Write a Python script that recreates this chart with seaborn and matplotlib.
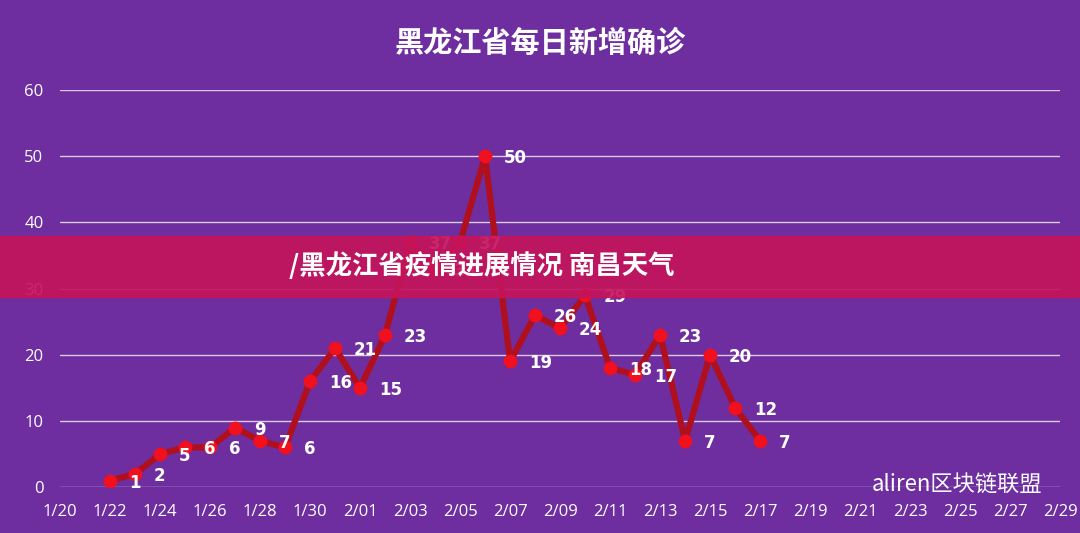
import matplotlib
matplotlib.use("Agg")
import matplotlib.pyplot as plt
import seaborn as sns
import pandas as pd
import numpy as np

tick_labels = ["1/20","1/22","1/24","1/26","1/28","1/30","2/01","2/03","2/05","2/07","2/09","2/11","2/13","2/15","2/17","2/19","2/21","2/23","2/25","2/27","2/29"]
values = [1,2,5,6,6,9,7,6,16,21,15,23,37,33,37,50,19,26,24,29,18,17,23,7,20,12,7]
start_day = 2  # data starts on 1/22 (day index 2 from 1/20)

sns.set_theme(style="white")
plt.rcParams['font.family'] = ['Noto Sans CJK SC', 'DejaVu Sans']
bg = "#6E2E9F"
fig = plt.figure(figsize=(10.8, 5.33), dpi=100, facecolor=bg)
ax = fig.add_axes([0.0556, 0.086, 0.926, 0.745], facecolor=bg)

df = pd.DataFrame({"day": np.arange(len(values)) + start_day, "v": values})
sns.lineplot(data=df, x="day", y="v", ax=ax, color="#B0101E", linewidth=4.5, zorder=3)
ax.scatter(df.day, df.v, s=80, color="#F0101E", zorder=4)
for d, v in zip(df.day, df.v):
    ax.text(d + 0.75, v - 0.3, str(v), color="white", fontsize=12, fontweight="bold",
            family="DejaVu Sans", va="center", zorder=5)

ax.set_xlim(0, 40)
ax.set_ylim(0, 60)
ax.set_xticks(np.arange(0, 41, 2))
ax.set_xticklabels(tick_labels)
ax.set_yticks(range(0, 61, 10))
ax.tick_params(colors="white", labelsize=12, length=0)
for t in ax.get_xticklabels() + ax.get_yticklabels():
    t.set_family("Open Sans")
ax.tick_params(axis="x", pad=12)
ax.tick_params(axis="y", pad=12)
ax.grid(axis="y", color="#D8CBE6", linewidth=1)
for s in ax.spines.values():
    s.set_visible(False)
ax.set_xlabel(""); ax.set_ylabel("")

fig.text(0.5, 0.92, "黑龙江省每日新增确诊", color="white", fontsize=21, fontweight="bold", ha="center", va="center")

# banner overlay
fig.patches.append(plt.Rectangle((0, 0.443), 1, 0.115, transform=fig.transFigure, color="#C4145C", alpha=0.92, zorder=10))
fig.text(0.268, 0.5, "/黑龙江省疫情进展情况 南昌天气", color="white", fontsize=19, fontweight="bold", va="center", zorder=11)
fig.text(0.965, 0.09, "aliren区块链联盟", color="white", fontsize=16, ha="right", va="center", zorder=11)

fig.savefig("out.png", dpi=100, facecolor=bg)
